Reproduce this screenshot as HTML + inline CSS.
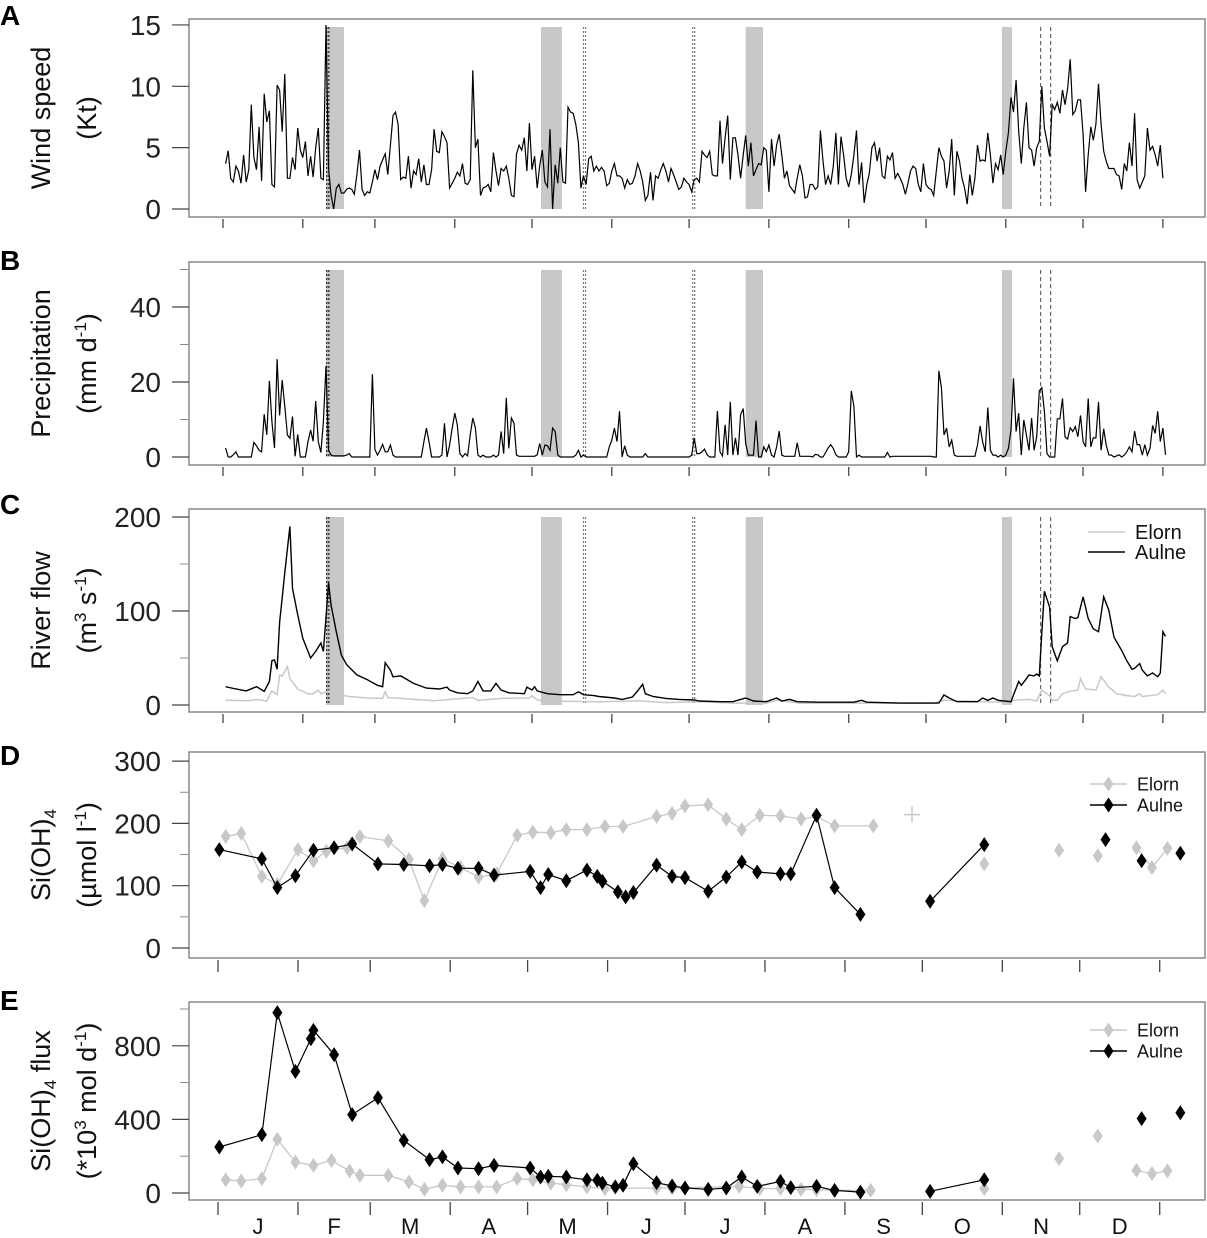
<!DOCTYPE html>
<html><head><meta charset="utf-8">
<style>
html,body{margin:0;padding:0;background:#fff;}
svg{display:block;font-family:"Liberation Sans",Arial,sans-serif;}
</style></head>
<body>
<svg id="chart" width="1207" height="1238" viewBox="0 0 1207 1238" xmlns="http://www.w3.org/2000/svg"></svg>
<script>
// ---------- DATA ----------
const monthLabels = ["J","F","M","A","M","J","J","A","S","O","N","D"];
const monthStartDays = [0,31,59,90,120,151,181,212,243,273,304,334,365];

const windTicks = [0,5,10,15];
const windSpeed = [3.7,4.75,2.5,2.2,3.5,3.1,2.1,4.4,2.2,3.2, 8.5,4.2,3.2,6.7,2.3,9.4,7.1,8.0,2.0,1.8,
 10.1,9.7,6.3,11.0,2.5,2.5,4.2,3.2,6.6,4.8, 4.2,5.5,2.7,4.3,2.6,5.0,6.6,2.5,2.4,15,
 3.3,1.1,0,1.7,2.0,1.3,1.3,1.6,1.7,1.6, 1.2,2.8,4.8,1.6,1.1,1.4,1.3,2.2,3.2,2.4,
 3.5,4.0,4.5,2.8,5.2,7.6,7.9,6.9,2.4,2.6, 2.5,4.3,1.7,3.1,2.8,4.1,2.2,3.6,2.0,2.0,
 3.2,6.5,4.7,4.6,6.3,5.9,5.4,1.7,2.1,2.5, 3.0,2.7,3.7,2.1,2.0,2.4,11.3,5.0,5.7,1.1,
 1.7,1.8,2.0,1.4,4.6,3.1,1.9,3.3,3.1,3.5, 2.5,1.1,1.0,4.5,5.2,4.8,5.8,3.1,7.0,3.2,
 4.3,1.7,3.5,4.8,2.2,1.8,6.5,0,3.6,2.1, 5.0,2.2,2.1,8.3,7.9,7.8,6.9,5.4,1.7,2.7,
 2.0,4.1,4.3,3.1,3.5,3.1,3.4,3.1,1.9,2.1, 3.1,3.7,2.7,2.7,2.5,1.7,2.4,2.0,2.1,2.7,
 3.7,3.1,2.2,0.7,1.1,3.0,0.7,2.7,2.5,3.2, 3.7,3.1,2.2,3.3,2.8,2.2,1.6,1.8,2.5,2.2,
 2.0,1.4,2.4,2.5,
 2.2,4.7,4.4,4.2,4.7,2.8,2.7,2.7,7.2,3.7, 5.8,7.6,2.4,5.8,5.8,4.4,2.5,4.4,6.0,3.5,
 5.4,2.7,3.2,3.7,3.6,5.0,4.8,1.4,5.7,3.5, 5.2,6.1,4.4,2.5,3.1,1.9,1.6,1.3,2.5,3.6,
 2.7,0.9,1.0,2.0,2.0,1.6,1.8,6.4,3.9,2.0, 2.7,2.0,3.5,6.2,2.0,5.9,4.4,2.5,1.8,2.8,
 4.4,6.4,2.0,3.8,0.5,2.0,2.9,5.0,5.4,3.9, 5.0,2.7,2.5,4.3,4.0,4.6,2.5,2.9,2.5,2.0,
 1.2,2.1,3.1,3.5,3.3,2.0,1.4,3.7,2.0,1.7, 1.6,1.1,3.1,5.0,4.3,3.9,1.7,3.1,5.7,1.1,
 4.7,3.9,2.5,1.7,0.4,2.8,1.1,2.5,5.2,3.9, 4.0,3.9,6.2,4.4,2.1,3.7,3.2,4.4,2.8,4.7,
 6.2,9.1,7.9,10.5,6.3,3.7,6.6,8.7,5.0,4.8, 3.5,5.0,5.5,10.0,6.6,5.5,4.3,8.5,8.1,8.7,
 7.8,9.7,8.5,9.8,12.2,7.7,8.0,8.9,8.9,6.1, 1.4,4.4,6.7,5.6,6.9,10.2,6.9,4.7,3.9,3.3,
 3.3,3.3,2.8,2.7,1.6,3.7,3.1,5.4,3.5,7.8, 2.4,1.7,2.2,2.7,6.6,4.8,5.1,4.4,3.5,5.2,
 2.5];

const precipTicks = [0,20,40];
const precipMinor = [10,30,50];
const precipitation = [2.4,0,0,0.6,1.4,0,0,0,0,0, 0,3.9,3.0,1.8,1.4,11.4,5.9,20.3,9.5,2.4,
 26.1,11.1,20.5,13.5,5.9,5.0,10.8,0.2,6.0,0, 0,0,4.1,7.2,4.2,14.9,4.1,1.2,9.5,24.3,
 1.8,0.5,0.3,0.3,0.3,0.3,0.3,0.5,0.9,0, 0,0,0,0,0,0,0,22.1,2,0.5,
 1.8,3.4,1.4,1.4,3.2,0.5,0,0,0,0, 0,0,0,0,0,0,0,4.1,7.7,4.1,
 0,0,0,0,0.5,9.0,0,3.2,7.7,11.7, 8.6,0.9,0,0.9,0.3,5.9,10.4,7.7,0.5,0,
 0.5,0,0,0,0.5,0,0.5,6.8,0.9,15.8, 2.3,10.4,9.0,0.5,0.2,0.2,0.2,0.2,0.2,0.2,
 0.2,0.6,3.6,0.5,3.2,3.0,1.8,7.7,6.8,0.5, 0,0,0,0,0,0,0.5,1.8,0,0.5,
 0,0,0,0,0,0,0,0,0,2.7, 4.5,7.7,4.1,12.2,0,3.0,0.5,0,0,0,
 0,0,0,0.9,0,0,0,0,0,0, 0,0,0,0,0,0,0,0,0,0,
 0,0.5,5.1,0.9,0.9,1.4,2.1,0.6,0,0, 0,12.3,1.4,0.3,8.6,0.5,14.7,0.5,5.1,0.5,
 11.3,12.9,3.6,0.5,0.5,0.5,9.7,0,0,2.7, 1.4,3.2,0.5,0,2.7,6.9,0.5,0.2,0.2,0.2,
 0.2,0.2,3.8,0.2,0.2,0.2,0.2,0.2,0,0.7, 0.6,0,0,1.2,2.4,3.3,2.3,0.6,0,0,
 0,0,1.4,17.6,13.5,0,0.5,0,0,0, 0,0,0,0,0,0,0,1.2,0,0.2,
 0.2,0.2,0.2,0.2,0.2,0.2,0.2,0.2,0.2,0.2, 0.2,0.2,0.2,0.2,0.2,0,0,23.0,18.5,5.9,
 7.7,2.7,4.5,0.5,0.2,0.2,0.2,0.2,0.2,0.2, 0.2,0.2,3.2,8.3,4.1,1.4,13.2,1.8,0.5,0.5,
 0,0.5,0,0.5,2.3,7.2,21.0,6.8,11.7,0.5, 9.9,5.9,1.8,10.4,1.8,5.4,17.6,18.5,12.2,0.9,
 0,0,0,10.2,10.2,15.6,5.4,4.8,7.8,6.8, 8.1,5.4,11.1,4.1,2.7,15.6,2.7,5.1,5.1,14.7,
 1.8,7.5,3.2,0.6,0.5,0,0.3,0.6,0,0.5, 1.4,2.7,1.4,6.9,3.3,3.3,0.5,3.3,0.5,2.3,
 8.4,6.3,12.2,4.1,7.7,0.6];

const flowTicks = [0,100,200];
const flowMinor = [50,150];
const aulneFlowDays = [1,5,9,13,16,18,19,20,21,22,23,24,26,27,29,31,33,34,36,38,39,41,42,44,46,48,52,56,60,62,63,65,66,69,74,79,84,87,88,91,95,97,99,101,104,106,108,111,117,118,120,121,122,126,131,136,138,140,144,146,152,155,159,161,163,164,167,172,177,183,185,193,198,203,206,211,215,217,220,223,231,240,245,248,250,263,276,278,280,282,285,293,295,297,299,301,306,307,309,310,312,313,315,316,317,318,319,321,322,324,326,328,329,331,332,334,336,338,340,342,344,346,349,351,353,354,356,357,359,361,363,364,365,366];
const aulneFlow = [19.5,17,15,19.5,14.5,25,47,48,38,88,114,141,190,124,96,71,57,50,57,66,57,130,106,78,53,43,32,27,21,19.5,45,37,30,31,23,18,17,19,16,13,12,15,25,15,15,23,16,13,12,19,16,19.5,15,12,11,11,14,11,10,9,7.5,6,8.5,15,22,12,9,7,6,5.3,4.3,3.5,3.5,7.5,4.3,3.5,7.5,4.3,6,3.5,3,3,3,5,3,2,2,2,10.6,7.5,3.5,3.5,7.5,5,7.5,5,3.5,10.6,25,21,28,32,31,33,31,77,121,104,62,47,62,66,94,92,93,115,92,81,78,115,101,72,58,47,38,39,44,37,31,34,30,34,78,73];
const elornFlowDays = [1,10,13,17,19,21,22,23,25,26,29,33,35,37,38,41,43,49,56,62,63,64,69,82,97,99,108,119,120,122,133,146,161,172,185,198,211,215,224,276,280,302,307,313,316,318,321,322,324,326,328,332,333,335,339,341,344,347,351,354,356,357,363,365,366];
const elornFlow = [5,4.5,6,4,15,11,32,31,41,28,17,12,12,16,12,15,12,9,7.5,7,14,8,7,4.5,8,5,7,7.5,10,5.3,4,3.5,4.5,2.5,3.5,2,2,5,2,2,5,3,5,6,4.3,16,10,5,5,12,14,16,28,17,16,30,19,12,10,9,12,9,11,16,12];

const siTicks = [0,100,200,300];
const siMinor = [50,150,250];
const elornSiDays = [3,9,17,23,31,37,42,50,55,66,74,80,87,94,101,108,116,122,129,135,143,150,157,170,176,181,190,197,203,210,218,226,232,239,254,null,297,null,326,null,341,null,356,362,368];
const elornSi = [179,184,115,102,158,140,155,161,179,172,142,76,143,129,114,119,181,186,185,190,190,195,195,211,216,228,230,207,190,213,212,207,211,196,196,null,135,null,157,null,148,null,161,129,160];
const elornSiPlusDay = [269];
const elornSiPlusVal = [214];
const aulneSiDays = [0.5,17,23,30,37,45,52,62,72,82,87,93,101,107,121,125,128,135,143,147,149,155,158,161,170,176,181,190,197,203,209,218,222,232,239,249,null,276,297,null,344,null,358,null,373];
const aulneSi = [158,143,97,116,157,161,167,135,134,132,134,128,128,117,123,97,118,108,125,115,107,90,82,89,133,115,113,91,114,138,122,119,119,213,97,54,null,75,166,null,174,null,140,null,152];

const fluxTicks = [0,400,800];
const fluxMinor = [200,600,1000];
const aulneFluxDays = [0.5,17,23,30,36,37,45,52,62,72,82,87,93,101,107,121,125,128,135,143,147,149,154,157,161,170,176,181,190,197,203,209,218,222,232,239,249,null,276,297,null,358,null,373];
const aulneFlux = [250,317,980,661,838,884,752,426,518,286,181,196,136,132,150,136,87,91,87,72,69,54,33,42,159,56,38,27,20,27,87,36,63,29,36,14,5,null,9,72,null,404,null,436];
const elornFluxDays = [3,9,17,23,30,37,44,51,55,66,74,80,87,94,101,108,116,122,129,135,143,150,170,176,202,210,218,226,232,239,253,null,297,null,326,null,341,null,356,362,368];
const elornFlux = [72,65,78,292,168,150,177,120,96,96,60,20,42,33,33,33,78,72,54,45,33,24,27,27,36,24,24,20,18,14,14,null,24,null,187,null,310,null,123,105,120];

const shadeStart = [40.0,123.5,203,302.5];
const shadeEnd = [47.0,131.6,209.7,306.4];
const dashDays = [40.3,41.1,140,140.8,182.4,183.2,317.5,321.4];
const dashKind = ["k","k","g","g","g","g","d","d"];

// ---------- HELPERS ----------
const svg = document.getElementById('chart');
const NS = 'http://www.w3.org/2000/svg';
function el(tag, attrs, parent){
  const e = document.createElementNS(NS, tag);
  for (const k in attrs) e.setAttribute(k, attrs[k]);
  (parent||svg).appendChild(e);
  return e;
}
const BOX_L = 189, BOX_R = 1205;
const xTop = d => 223 + d*2.575;
const xBot = d => 218 + d*2.58;

const panels = {
  A:{top:19,bottom:217,y0:209,k:12.27},
  B:{top:262,bottom:465,y0:457,k:3.75},
  C:{top:509,bottom:712,y0:705,k:0.94},
  D:{top:752,bottom:958,y0:948,k:0.623},
  E:{top:1002,bottom:1200,y0:1193,k:0.184}
};
function yOf(p, v){ return panels[p].y0 - v*panels[p].k; }

function drawFrame(p, ticks, minor, xf, tickLen, letter, letterY, titleLines){
  const P = panels[p];
  const g = el('g', {});
  
  
  const frame = el('rect', {x:BOX_L, y:P.top, width:BOX_R-BOX_L, height:P.bottom-P.top, fill:'none', stroke:'#777', 'stroke-width':1.3}, g);
  
  
  ticks.forEach(v=>{
    const y = yOf(p, v);
    const t = el('line', {x1:172, x2:BOX_L, y1:y, y2:y, stroke:'#444', 'stroke-width':1.2}, g);
    
    
    const lb = el('text', {x:161, y:y+10, 'text-anchor':'end', 'font-size':28, fill:'#222'}, g);
    lb.textContent = v;
    
    
  });
  minor.forEach(v=>{
    const y = yOf(p, v);
    const t = el('line', {x1:180, x2:BOX_L, y1:y, y2:y, stroke:'#888', 'stroke-width':1}, g);
    
    
  });
  monthStartDays.forEach(d=>{
    const x = xf(d);
    const t = el('line', {x1:x, x2:x, y1:P.bottom+2, y2:P.bottom+2+tickLen, stroke:'#444', 'stroke-width':1.3}, g);
    
    
  });
  const L = el('text', {x:0, y:letterY, 'font-size':28, 'font-weight':'bold', fill:'#000'}, g);
  L.textContent = letter;
  
  
  const cy = (P.top + P.bottom)/2;
  titleLines.forEach((html, i)=>{
    const cx = i===0 ? 50 : 96;
    const t = el('text', {x:cx, y:cy, 'text-anchor':'middle', 'font-size':27, fill:'#111', transform:`rotate(-90 ${cx} ${cy})`}, g);
    t.innerHTML = html;
    
    
  });
  return g;
}

function drawEvents(p){
  const P = panels[p];
  const top = P.top + 8, bot = P.y0;
  shadeStart.forEach((s,i)=>{
    const r = el('rect', {x:xTop(s), y:top, width:xTop(shadeEnd[i])-xTop(s), height:bot-top, fill:'#c8c8c8'});
    
    
  });
  dashDays.forEach((d,i)=>{
    const kind = dashKind[i];
    const st = kind==='k' ? '#222' : (kind==='g' ? '#777' : '#666');
    const da = kind==='d' ? '4,3' : '2,2';
    const l = el('line', {x1:xTop(d), x2:xTop(d), y1:top, y2:bot, stroke:st, 'stroke-width':1.2, 'stroke-dasharray':da});
    
    
  });
}

function pathFrom(days, vals, p, xf){
  let d = '', pen = false;
  for (let i=0;i<days.length;i++){
    if (days[i]===null || vals[i]===null){ pen=false; continue; }
    const x = xf(days[i]).toFixed(1), y = yOf(p, vals[i]).toFixed(1);
    d += (pen ? 'L' : 'M') + x + ' ' + y + ' ';
    pen = true;
  }
  return d;
}
function diamond(cx, cy, fill, name){
  const m = el('path', {d:`M${cx} ${cy-7.5}L${cx+5} ${cy}L${cx} ${cy+7.5}L${cx-5} ${cy}Z`, fill:fill});
  
  
  return m;
}
function legend(x, y1, y2, fs, withMarker){
  const items = [['Elorn','#c8c8c8',y1],['Aulne','#000',y2]];
  items.forEach(([lbl,col,y])=>{
    const l = el('line', {x1:x, x2:x+37, y1:y, y2:y, stroke:col, 'stroke-width':1.5});
    
    
    if (withMarker) diamond(x+18.5, y, col, 'legend-marker-' + lbl.toLowerCase());
    const t = el('text', {x:x+47, y:y+fs*0.36, 'font-size':fs, fill:'#111'});
    t.textContent = lbl;
    
    
  });
}

// ---------- PANEL A ----------
drawFrame('A', windTicks, [], xTop, 9, 'A', 25, ['Wind speed','(Kt)']);
drawEvents('A');
const windDays = windSpeed.map((v,i)=>i+1);
const wl = el('path', {d:pathFrom(windDays, windSpeed, 'A', xTop), fill:'none', stroke:'#000', 'stroke-width':1.2});



// ---------- PANEL B ----------
drawFrame('B', precipTicks, precipMinor, xTop, 9, 'B', 270, ['Precipitation','(mm d<tspan font-size="17" dy="-10">-1</tspan><tspan dy="10">)</tspan>']);
drawEvents('B');
const precipDays = precipitation.map((v,i)=>i+1);
const pl = el('path', {d:pathFrom(precipDays, precipitation, 'B', xTop), fill:'none', stroke:'#000', 'stroke-width':1.2});



// ---------- PANEL C ----------
drawFrame('C', flowTicks, flowMinor, xTop, 9, 'C', 514, ['River flow','(m<tspan font-size="17" dy="-10">3</tspan><tspan dy="10"> s</tspan><tspan font-size="17" dy="-10">-1</tspan><tspan dy="10">)</tspan>']);
drawEvents('C');
const el1 = el('path', {d:pathFrom(elornFlowDays, elornFlow, 'C', xTop), fill:'none', stroke:'#c8c8c8', 'stroke-width':1.5});


const al1 = el('path', {d:pathFrom(aulneFlowDays, aulneFlow, 'C', xTop), fill:'none', stroke:'#000', 'stroke-width':1.4});


legend(1088, 532, 552, 20, false);

// ---------- PANEL D ----------
drawFrame('D', siTicks, siMinor, xBot, 12, 'D', 765, ['Si(OH)<tspan font-size="17" dy="6">4</tspan>','(µmol l<tspan font-size="17" dy="-10">-1</tspan><tspan dy="10">)</tspan>']);
const eD = el('path', {d:pathFrom(elornSiDays, elornSi, 'D', xBot), fill:'none', stroke:'#c8c8c8', 'stroke-width':1.3});


elornSiDays.forEach((d,i)=>{ if(d!==null && elornSi[i]!==null) diamond(xBot(d), yOf('D', elornSi[i]), '#c8c8c8', 'elorn-si-point'); });
elornSiPlusDay.forEach((d,i)=>{
  const cx = xBot(d), cy = yOf('D', elornSiPlusVal[i]);
  const pl2 = el('path', {d:`M${cx-8} ${cy}H${cx+8}M${cx} ${cy-8}V${cy+8}`, stroke:'#c8c8c8', 'stroke-width':1.5, fill:'none'});
  
  
});
const aD = el('path', {d:pathFrom(aulneSiDays, aulneSi, 'D', xBot), fill:'none', stroke:'#000', 'stroke-width':1.2});


aulneSiDays.forEach((d,i)=>{ if(d!==null && aulneSi[i]!==null) diamond(xBot(d), yOf('D', aulneSi[i]), '#000', 'aulne-si-point'); });
legend(1090, 784, 805, 18, true);

// ---------- PANEL E ----------
drawFrame('E', fluxTicks, fluxMinor, xBot, 13, 'E', 1010, ['Si(OH)<tspan font-size="17" dy="6">4</tspan><tspan dy="-6"> flux</tspan>','(*10<tspan font-size="17" dy="-10">3</tspan><tspan dy="10"> mol d</tspan><tspan font-size="17" dy="-10">-1</tspan><tspan dy="10">)</tspan>']);
const eE = el('path', {d:pathFrom(elornFluxDays, elornFlux, 'E', xBot), fill:'none', stroke:'#c8c8c8', 'stroke-width':1.3});


elornFluxDays.forEach((d,i)=>{ if(d!==null && elornFlux[i]!==null) diamond(xBot(d), yOf('E', elornFlux[i]), '#c8c8c8', 'elorn-flux-point'); });
const aE = el('path', {d:pathFrom(aulneFluxDays, aulneFlux, 'E', xBot), fill:'none', stroke:'#000', 'stroke-width':1.2});


aulneFluxDays.forEach((d,i)=>{ if(d!==null && aulneFlux[i]!==null) diamond(xBot(d), yOf('E', aulneFlux[i]), '#000', 'aulne-flux-point'); });
legend(1090, 1030, 1051, 18, true);

// month labels
monthLabels.forEach((m,i)=>{
  const x = (xBot(monthStartDays[i]) + xBot(monthStartDays[i+1]))/2;
  const t = el('text', {x:x, y:1234, 'text-anchor':'middle', 'font-size':22, fill:'#111'});
  t.textContent = m;
  
  
});
</script>
</body></html>
